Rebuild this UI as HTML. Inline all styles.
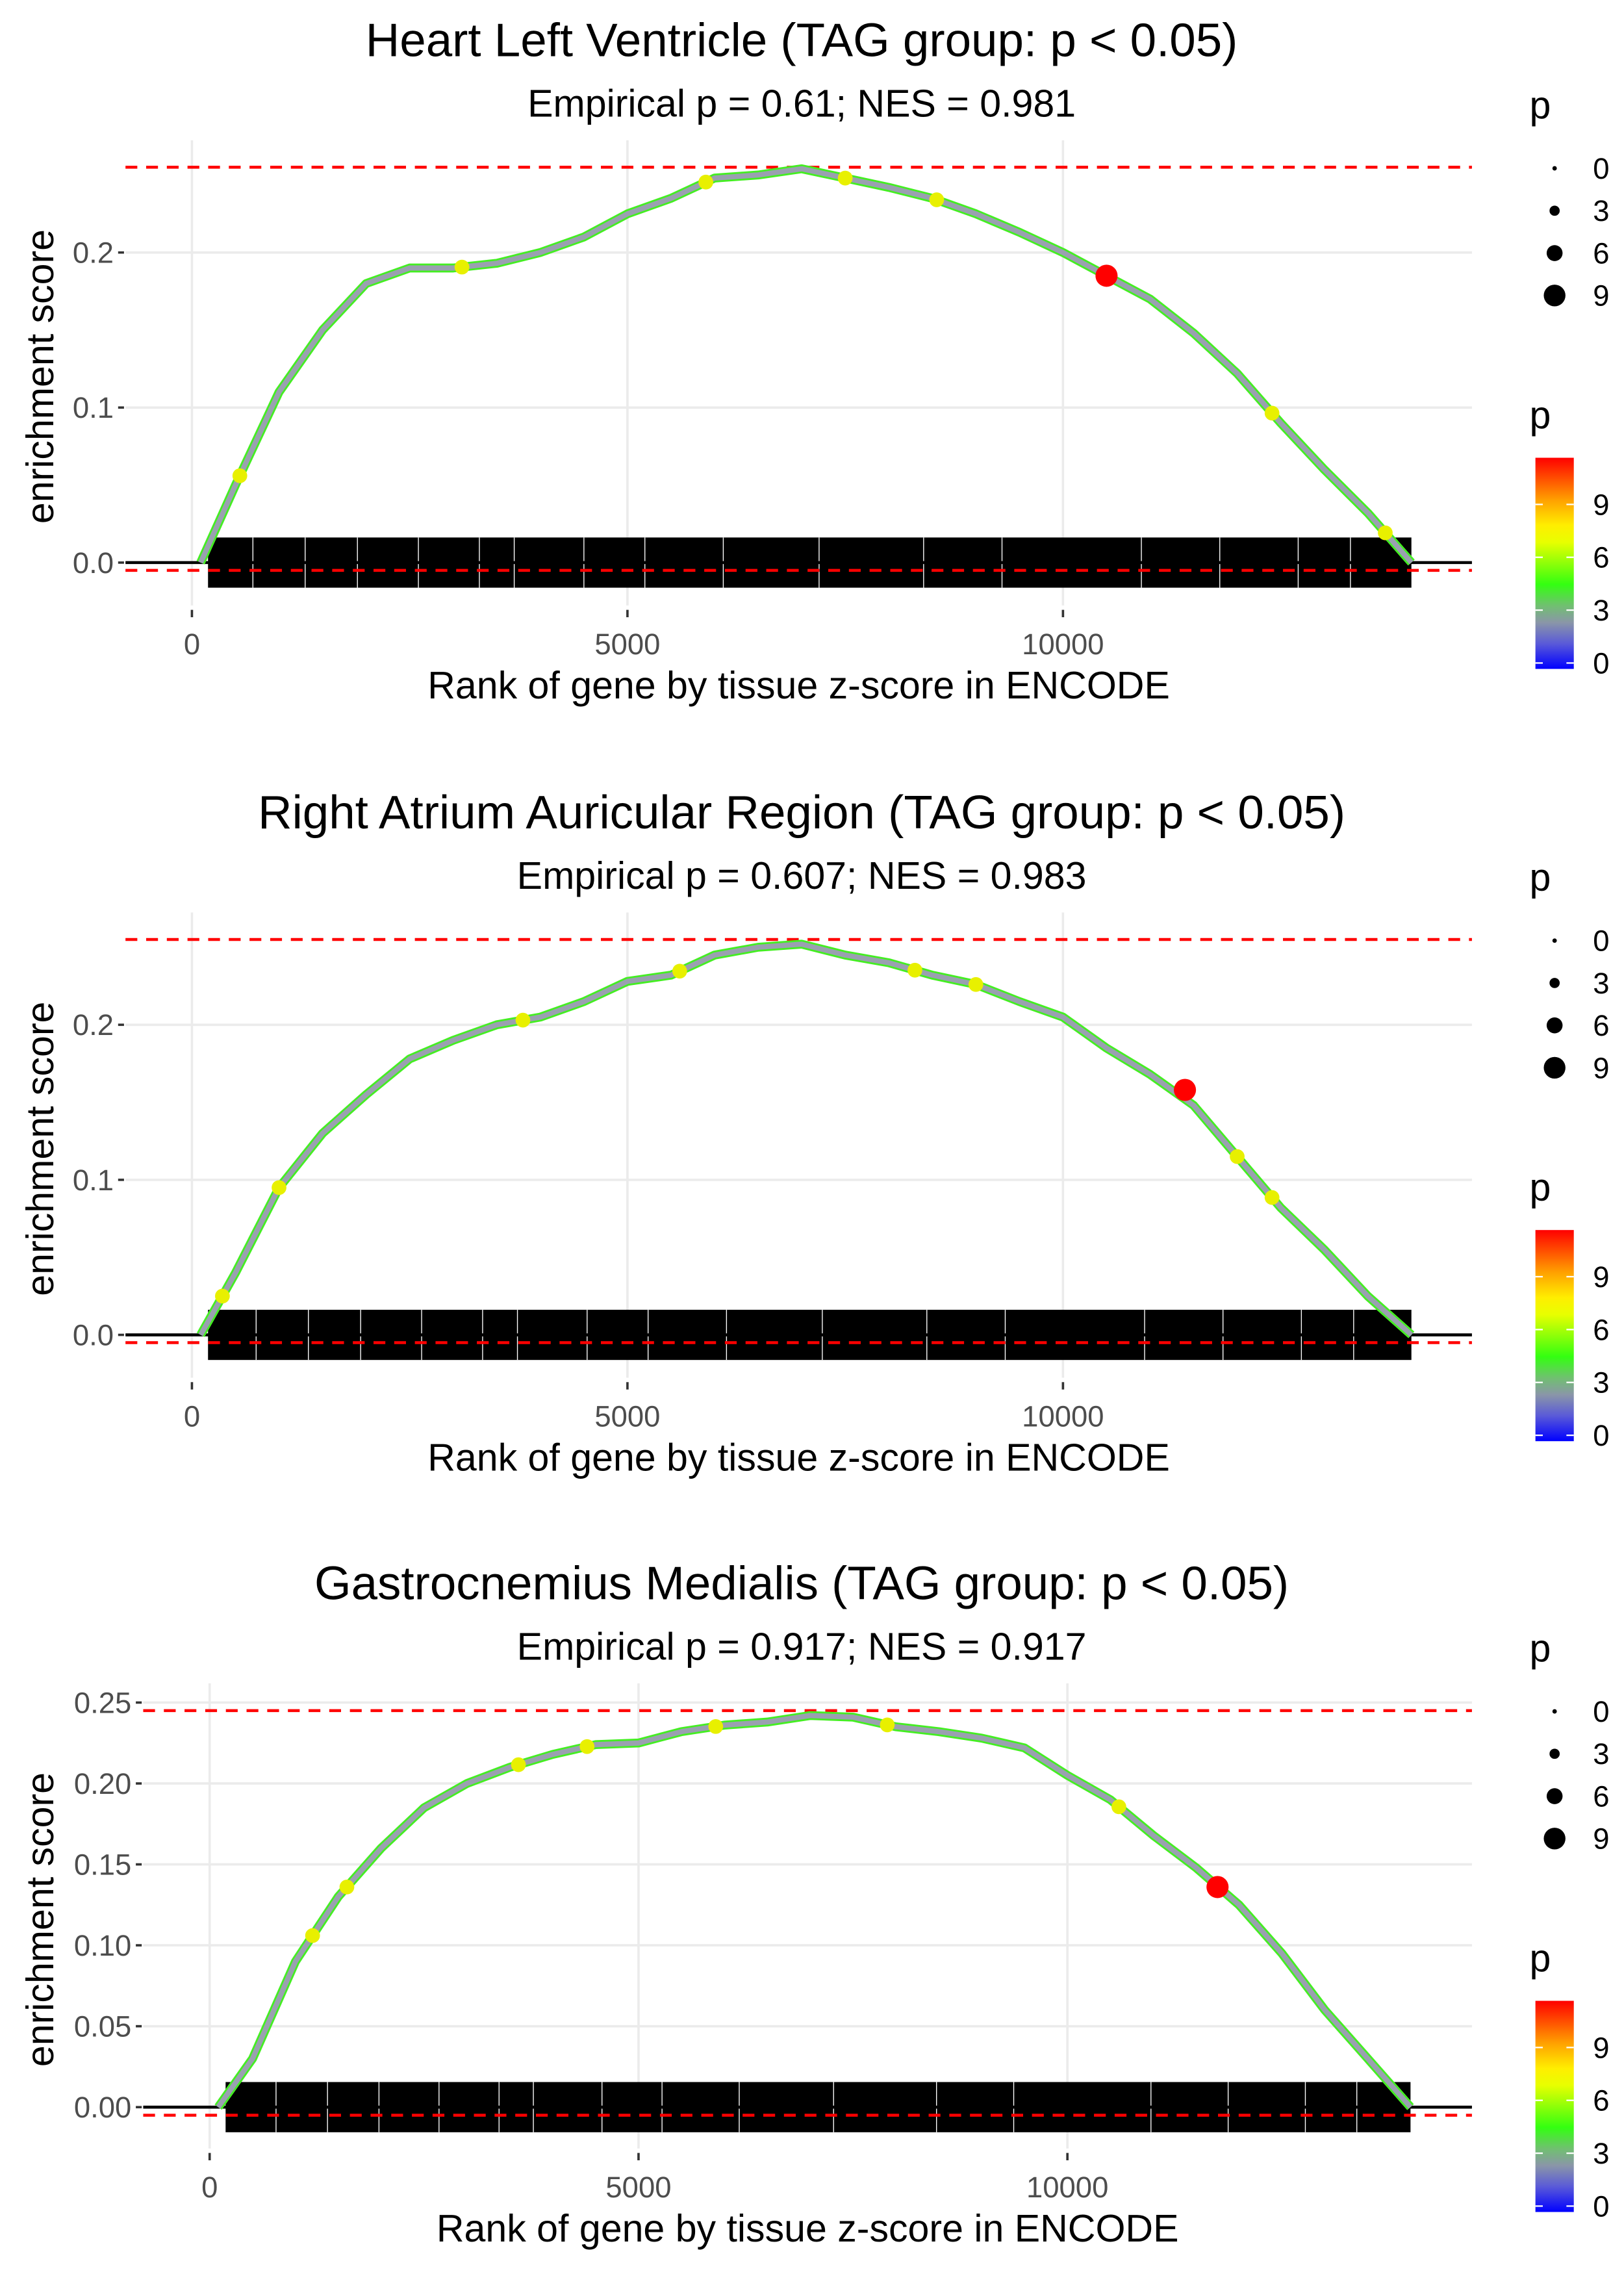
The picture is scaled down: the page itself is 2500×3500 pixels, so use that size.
<!DOCTYPE html>
<html><head><meta charset="utf-8"><style>
html,body{margin:0;padding:0;background:#fff;}
svg{display:block;font-family:"Liberation Sans",sans-serif;}
</style></head><body>
<svg id="chart" width="2500" height="3500" viewBox="0 0 1100 1540" xmlns="http://www.w3.org/2000/svg">
<defs>
<linearGradient id="pgrad" x1="0" y1="1" x2="0" y2="0">
<stop offset="0" stop-color="#0000ff"/>
<stop offset="0.12" stop-color="#5a5ad8"/>
<stop offset="0.22" stop-color="#8a96a8"/>
<stop offset="0.3" stop-color="#70c070"/>
<stop offset="0.4" stop-color="#33ff11"/>
<stop offset="0.6" stop-color="#e8ff00"/>
<stop offset="0.68" stop-color="#ffee00"/>
<stop offset="0.8" stop-color="#ffa000"/>
<stop offset="1" stop-color="#ff0000"/>
</linearGradient>
</defs>
</svg>
<script>
// ---- data ----
const ranks = [100,500,1000,1500,2000,2500,3000,3500,4000,4500,5000,5500,6000,6500,7000,7500,8000,8500,9000,9500,10000,10500,11000,11500,12000,12500,13000,13500,14000];
const es1 = [0,0.05,0.11,0.15,0.18,0.19,0.19,0.193,0.2,0.21,0.225,0.235,0.248,0.25,0.254,0.248,0.242,0.235,0.225,0.213,0.2,0.185,0.17,0.148,0.122,0.09,0.06,0.032,0];
const es2 = [0,0.04,0.095,0.13,0.155,0.178,0.19,0.2,0.205,0.215,0.228,0.232,0.245,0.25,0.252,0.245,0.24,0.232,0.226,0.215,0.205,0.185,0.168,0.148,0.115,0.082,0.055,0.025,0];
const es3 = [0,0.03,0.09,0.13,0.16,0.185,0.2,0.21,0.218,0.224,0.225,0.232,0.236,0.238,0.242,0.241,0.235,0.232,0.228,0.222,0.205,0.19,0.168,0.148,0.125,0.095,0.06,0.03,0];
const titles = ["Heart Left Ventricle (TAG group: p < 0.05)","Right Atrium Auricular Region (TAG group: p < 0.05)","Gastrocnemius Medialis (TAG group: p < 0.05)"];
const subtitles = ["Empirical p = 0.61; NES = 0.981","Empirical p = 0.607; NES = 0.983","Empirical p = 0.917; NES = 0.917"];
const maxES = [0.255,0.255,0.245];
const redRank = [10500,11400,11750];
const redES = [0.185,0.158,0.136];
const yellowRanks1 = [550,3100,5900,7500,8550,12400,13700];
const yellowRanks2 = [350,1000,3800,5600,8300,9000,12000,12400];
const yellowRanks3 = [1200,1600,3600,4400,5900,7900,10600];
const yTicks12 = [0,0.1,0.2];
const yLabels12 = ["0.0","0.1","0.2"];
const yTicks3 = [0,0.05,0.1,0.15,0.2,0.25];
const yLabels3 = ["0.00","0.05","0.10","0.15","0.20","0.25"];
const xTicks = [0,5000,10000];
const gapRanks = [700,1300,1900,2600,3300,3700,4500,5200,6100,7200,8400,9300,10900,11800,12700,13300];
const sizeLegend = [0,3,6,9];
const colorLegend = [0,3,6,9];

const NS="http://www.w3.org/2000/svg";
const svg=document.getElementById('chart');
function mk(tag,attrs,parent){const e=document.createElementNS(NS,tag);for(const k in attrs)e.setAttribute(k,attrs[k]);(parent||svg).appendChild(e);return e;}
function txt(s,attrs,parent){const e=mk('text',attrs,parent);e.textContent=s;return e;}

const panels=[
 {off:0, es:es1, yT:yTicks12, yL:yLabels12, left:85, x0:130, x5:425, y0:381, yUnit:1050, yellow:yellowRanks1},
 {off:523, es:es2, yT:yTicks12, yL:yLabels12, left:85, x0:130, x5:425, y0:904, yUnit:1050, yellow:yellowRanks2},
 {off:1045, es:es3, yT:yTicks3, yL:yLabels3, left:97, x0:142, x5:432.5, y0:1427, yUnit:1096, yellow:yellowRanks3}
];
const right=997;

panels.forEach((p,i)=>{
 const g=mk('g',{});
 
 
 const xs=r=>p.x0+(r/5000)*(p.x5-p.x0);
 const ys=v=>p.y0-v*p.yUnit;
 const top=p.off+95, bottom=p.off+410;
 p.yT.forEach(v=>{const l=mk('line',{x1:p.left,x2:right,y1:ys(v),y2:ys(v),stroke:'#ebebeb','stroke-width':1.6},g);
  });
 xTicks.forEach(v=>{const l=mk('line',{x1:xs(v),x2:xs(v),y1:top,y2:bottom,stroke:'#ebebeb','stroke-width':1.6},g);
  });
 const t=txt(titles[i],{x:543,y:p.off+38,'font-size':32,'text-anchor':'middle',fill:'#000'},g);
 
 const st=txt(subtitles[i],{x:543,y:p.off+79,'font-size':26,'text-anchor':'middle',fill:'#000'},g);
 
 const bc=mk('rect',{x:xs(ranks[0])+5,y:ys(0)-17,width:xs(ranks[ranks.length-1])-xs(ranks[0])-5,height:34,fill:'#000'},g);
 
 gapRanks.forEach(r=>{const l=mk('line',{x1:xs(r+i*37),x2:xs(r+i*37),y1:ys(0)-17,y2:ys(0)+17,stroke:'#fff','stroke-width':0.6},g);
  });
 const zl=mk('line',{x1:p.left,x2:right,y1:ys(0),y2:ys(0),stroke:'#000','stroke-width':2},g);
 
 const r1=mk('line',{x1:p.left,x2:right,y1:ys(maxES[i]),y2:ys(maxES[i]),stroke:'#ff0000','stroke-width':2,'stroke-dasharray':'8,6'},g);
 
 const r2=mk('line',{x1:p.left,x2:right,y1:ys(-0.005),y2:ys(-0.005),stroke:'#ff0000','stroke-width':2,'stroke-dasharray':'8,6'},g);
 
 const d=p.es.map((v,k)=>(k?'L':'M')+xs(ranks[k]).toFixed(1)+','+ys(v).toFixed(1)).join(' ');
 const c1=mk('path',{d:d,fill:'none',stroke:'#44ee22','stroke-width':6,'stroke-linejoin':'round'},g);
 
 const c2=mk('path',{d:d,fill:'none',stroke:'#9aa0b0','stroke-width':3.5,'stroke-linejoin':'round'},g);
 
 const interp=r=>{for(let k=1;k<ranks.length;k++){if(r<=ranks[k]){const f=(r-ranks[k-1])/(ranks[k]-ranks[k-1]);return p.es[k-1]+f*(p.es[k]-p.es[k-1]);}}return 0;};
 p.yellow.forEach(r=>{const dt=mk('circle',{cx:xs(r),cy:ys(interp(r)),r:5,fill:'#e8f000'},g);
  });
 const rd=mk('circle',{cx:xs(redRank[i]),cy:ys(redES[i]),r:7.5,fill:'#ff0000'},g);
 
 p.yT.forEach((v,k)=>{const tk=mk('line',{x1:p.left-5,x2:p.left-1,y1:ys(v),y2:ys(v),stroke:'#333','stroke-width':1.6},g);
  
  const lb=txt(p.yL[k],{x:p.left-8,y:ys(v)+7,'font-size':20,'text-anchor':'end',fill:'#4d4d4d'},g);
  });
 xTicks.forEach(v=>{const tk=mk('line',{x1:xs(v),x2:xs(v),y1:bottom+3,y2:bottom+8,stroke:'#333','stroke-width':1.6},g);
  
  const lb=txt(String(v),{x:xs(v),y:p.off+443,'font-size':20,'text-anchor':'middle',fill:'#4d4d4d'},g);
  });
 const xt=txt('Rank of gene by tissue z-score in ENCODE',{x:(p.left+right)/2,y:p.off+473,'font-size':26,'text-anchor':'middle',fill:'#000'},g);
 
 const yt=txt('enrichment score',{x:0,y:0,'font-size':26,'text-anchor':'middle',fill:'#000',transform:'translate(36,'+(p.off+255)+') rotate(-90)'},g);
 
 const lt=txt('p',{x:1036,y:p.off+80,'font-size':26,fill:'#000'},g);
 
 sizeLegend.forEach((v,k)=>{const cy=p.off+114+k*28.7;
  const cc=mk('circle',{cx:1053,cy:cy,r:1.5+v*0.65,fill:'#000'},g);
  
  const lb=txt(String(v),{x:1079,y:cy+7,'font-size':20,fill:'#000'},g);
  });
 const ct=txt('p',{x:1036,y:p.off+290,'font-size':26,fill:'#000'},g);
 
 const cb=mk('rect',{x:1040,y:p.off+310,width:26,height:143,fill:'url(#pgrad)'},g);
 
 colorLegend.forEach(v=>{const cy=p.off+449-v*35.8/3;
  mk('line',{x1:1040,x2:1045,y1:cy,y2:cy,stroke:'#fff','stroke-width':1},g);
  mk('line',{x1:1061,x2:1066,y1:cy,y2:cy,stroke:'#fff','stroke-width':1},g);
  const lb=txt(String(v),{x:1079,y:cy+7,'font-size':20,fill:'#000'},g);
  });
});
</script>
</body></html>
